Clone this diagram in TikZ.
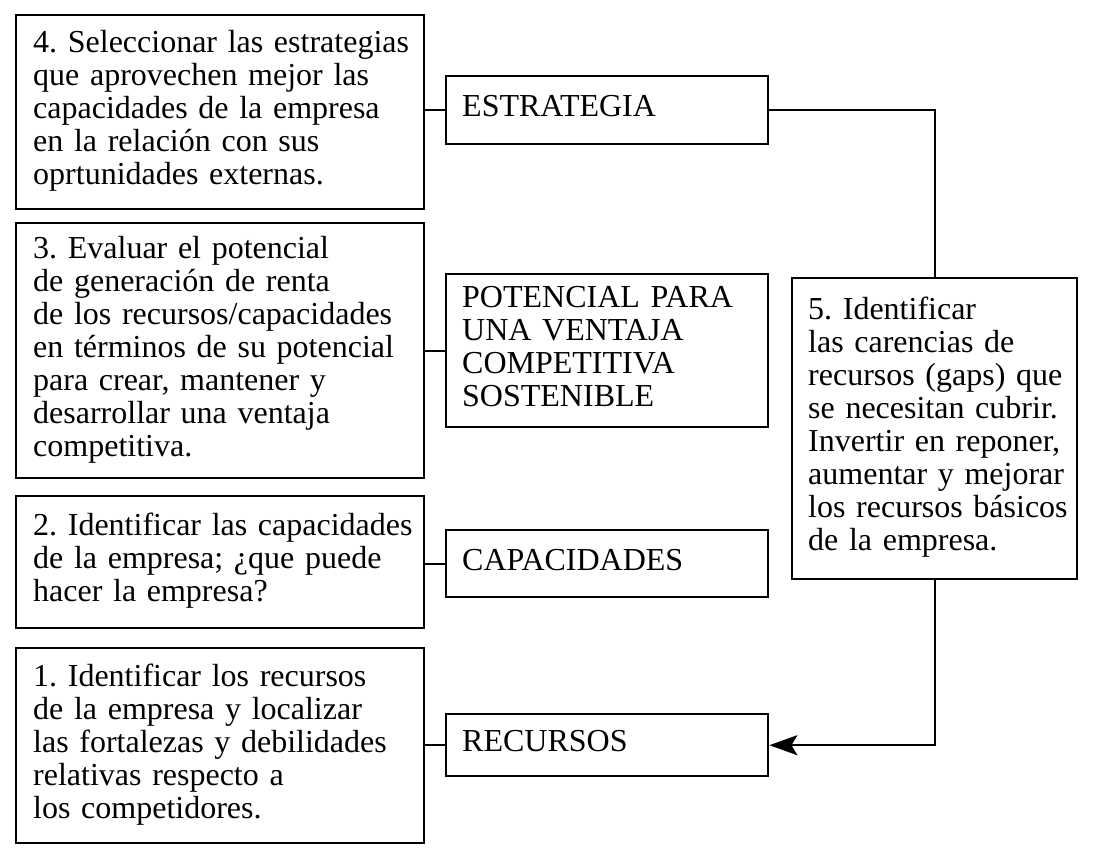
\documentclass[tikz,border=0pt]{standalone}
\usepackage{fontspec}
\setmainfont{Liberation Serif}
\usetikzlibrary{arrows.meta}
\newcommand{\boxlines}[1]{\begin{tabular}{@{}l@{}}#1\end{tabular}}
\begin{document}
\frenchspacing
\begin{tikzpicture}[x=1pt,y=-1pt,
  every node/.style={font=\fontsize{32}{33}\selectfont},
  box/.style={draw, line width=2.4pt, anchor=north west, align=left, inner ysep=0pt},
  leftbox/.style={box, minimum width=408pt, inner xsep=17pt, text width=374pt},
  midbox/.style={box, minimum width=322pt, inner xsep=16pt, text width=290pt},
  rightbox/.style={box, minimum width=285pt, inner xsep=16pt, text width=253pt},
  conn/.style={line width=2.2pt}
]
\useasboundingbox (0,0) rectangle (1096,864);

\node[leftbox, minimum height=194pt] (b4) at (15,14)
  {\boxlines{4. Seleccionar las estrategias\\ que aprovechen mejor las\\ capacidades de la empresa\\ en la relación con sus\\ oprtunidades externas.}};
\node[leftbox, minimum height=255pt] (b3) at (15,222)
  {\boxlines{3. Evaluar el potencial\\ de generación de renta\\ de los recursos/capacidades\\ en términos de su potencial\\ para crear, mantener y\\ desarrollar una ventaja\\ competitiva.}};
\node[leftbox, minimum height=132pt] (b2) at (15,495)
  {\boxlines{2. Identificar las capacidades\\ de la empresa; ¿que puede\\ hacer la empresa?}};
\node[leftbox, minimum height=195pt] (b1) at (15,647)
  {\boxlines{1. Identificar los recursos\\ de la empresa y localizar\\ las fortalezas y debilidades\\ relativas respecto a\\ los competidores.}};

\node[midbox, minimum height=68pt] (estr) at (445,75) {\boxlines{ESTRATEGIA}};
\node[midbox, minimum height=153pt] (pot) at (445,273)
  {\boxlines{POTENCIAL PARA\\ UNA VENTAJA\\ COMPETITIVA\\ SOSTENIBLE}};
\node[midbox, minimum height=67pt] (cap) at (445,529) {\boxlines{CAPACIDADES}};
\node[midbox, minimum height=62pt] (rec) at (445,713) {\boxlines{RECURSOS}};

\node[rightbox, minimum height=301pt] (b5) at (791,277)
  {\boxlines{5. Identificar\\ las carencias de\\ recursos (gaps) que\\ se necesitan cubrir.\\ Invertir en reponer,\\ aumentar y mejorar\\ los recursos básicos\\ de la empresa.}};

\draw[conn] (estr.west) -- (estr.west -| b4.east);
\draw[conn] (pot.west) -- (pot.west -| b3.east);
\draw[conn] (cap.west) -- (cap.west -| b2.east);
\draw[conn] (rec.west) -- (rec.west -| b1.east);

\draw[conn] (estr.east) -| (b5.north);
\draw[conn, -{Stealth[length=28pt,width=20pt,inset=6pt]}] (b5.south) |- (rec.east);
\end{tikzpicture}
\end{document}
